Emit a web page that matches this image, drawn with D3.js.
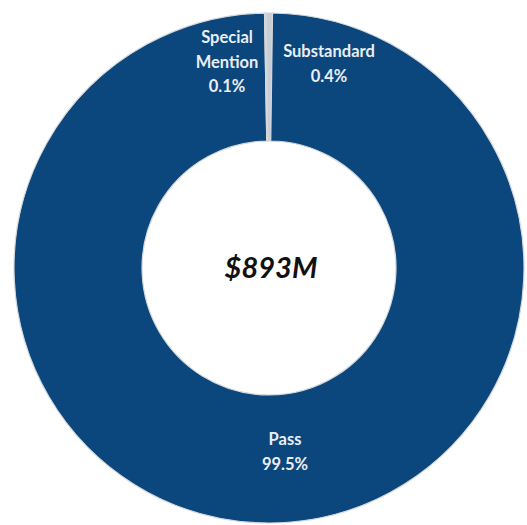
<!DOCTYPE html>
<html><head><meta charset="utf-8">
<script src="https://cdn.jsdelivr.net/npm/d3@7"></script>
<style>body{margin:0;background:#fff}svg{display:block}</style>
</head><body>
<script>
const categories = ["Substandard", "Pass", "Special Mention"];
const values = [0.4, 99.5, 0.1];
const labelLines = [["Substandard", "0.4%"], ["Pass", "99.5%"], ["Special", "Mention", "0.1%"]];
const centerLabel = "$893M";

const W = 527, H = 525, cx = 269, cy = 268, R = 255, r = 127;
const svg = d3.select("body").append("svg").attr("width", W).attr("height", H);
const g = svg.append("g").attr("transform", `translate(${cx},${cy})`);
const off = -0.0113;
const pie = d3.pie().sort(null).value(d => d).startAngle(off).endAngle(2 * Math.PI + off)(values);
const arc = d3.arc().innerRadius(r).outerRadius(R);
g.selectAll("path").data(pie).join("path")
  .attr("d", arc)
  .attr("fill", (d, i) => i === 1 ? "#0b467c" : "#c9ced4")
  .attr("stroke", "#d4d8dc").attr("stroke-width", 1.2);

// label positions (offsets relative to centre, in px)
const labelPos = [[60, -211], [16, 177], [-42, -225]];
const fs = 16.5;
labelLines.forEach((lines, i) => {
  const t = g.append("text").attr("text-anchor", "middle")
    .attr("font-family", "Lato, sans-serif").attr("font-weight", "bold")
    .attr("font-size", fs).attr("fill", "#e9eef5");
  lines.forEach((l, j) => t.append("tspan").attr("x", labelPos[i][0]).attr("y", labelPos[i][1] + j * 24.5).text(l));
});
g.append("text").attr("text-anchor", "middle").attr("x", 2).attr("y", 10)
  .attr("font-family", "Lato, sans-serif").attr("font-weight", "bold").attr("font-style", "italic")
  .attr("font-size", 29).attr("fill", "#111").text(centerLabel);
</script>
</body></html>
